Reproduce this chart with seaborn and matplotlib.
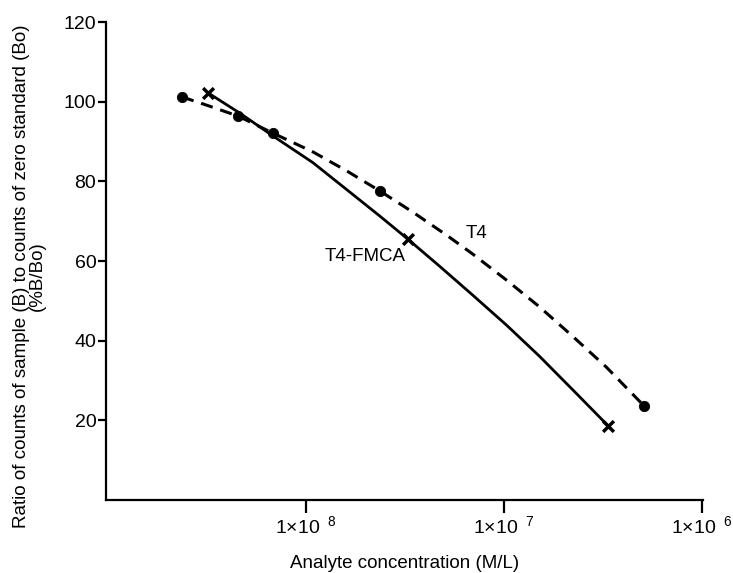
import matplotlib
matplotlib.use("Agg")
import matplotlib.pyplot as plt
import numpy as np
import seaborn as sns

# values (x in M/L, y in %B/Bo)
t4_pts_x = [2.37e-9, 4.54e-9, 6.82e-9, 2.36e-8, 5.1e-7]
t4_pts_y = [101.2, 96.4, 92.1, 77.6, 23.6]
t4_line_x = [2.37e-9, 3.21e-9, 4.54e-9, 6.82e-9, 1.085e-8, 1.61e-8, 2.36e-8, 3.46e-8,
             5.13e-8, 6.93e-8, 1.03e-7, 1.51e-7, 2.21e-7, 3.28e-7, 5.1e-7]
t4_line_y = [101.2, 99.0, 96.4, 92.1, 87.4, 82.6, 77.6, 72.3,
             66.5, 61.8, 55.2, 48.5, 41.2, 33.4, 23.6]

fmca_pts_x = [3.21e-9, 3.27e-8, 3.36e-7]
fmca_pts_y = [102.2, 65.5, 18.6]
fmca_line_x = [3.21e-9, 4.65e-9, 6.82e-9, 1.085e-8, 1.61e-8, 2.36e-8, 3.27e-8,
               4.73e-8, 6.93e-8, 1.03e-7, 1.51e-7, 2.21e-7, 3.36e-7]
fmca_line_y = [102.2, 97.1, 91.4, 84.7, 77.9, 71.3, 65.5,
               58.7, 51.5, 43.9, 36.1, 27.8, 18.6]

xticks = [1e-8, 1e-7, 1e-6]
xtick_labels = [r"1$\times$10$^{\ \ 8}$", r"1$\times$10$^{\ \ 7}$", r"1$\times$10$^{\ \ 6}$"]
yticks = [20, 40, 60, 80, 100, 120]

sns.set_style("ticks")
plt.rcParams['font.family'] = ['Liberation Sans', 'DejaVu Sans']
plt.rcParams['mathtext.default'] = 'regular'
plt.rcParams['text.color'] = 'black'
plt.rcParams['axes.labelcolor'] = 'black'
plt.rcParams['lines.solid_joinstyle'] = 'round'
plt.rcParams['lines.dash_joinstyle'] = 'round'

fig = plt.figure(figsize=(7.33, 5.73), dpi=100)
ax = fig.add_axes([0.1446, 0.1274, 0.8144, 0.8342])

sns.lineplot(x=t4_line_x, y=t4_line_y, ax=ax, color='black', lw=2.2,
             sort=False, estimator=None)
ax.lines[-1].set_dashes((4, 2.6))
sns.lineplot(x=fmca_line_x, y=fmca_line_y, ax=ax, color='black', lw=2.0,
             sort=False, estimator=None)
sns.scatterplot(x=t4_pts_x, y=t4_pts_y, ax=ax, color='black', s=55,
                marker='o', edgecolor='black', zorder=5)
sns.scatterplot(x=fmca_pts_x, y=fmca_pts_y, ax=ax, color='black', s=60,
                marker='x', linewidth=2.5, zorder=5)

ax.text(7.3e-8, 66.8, "T4", fontsize=13.5, ha='center', va='center', color='black')
ax.text(1.98e-8, 61.1, "T4-FMCA", fontsize=13.5, ha='center', va='center', color='black')

ax.set_xscale('log')
ax.set_xlim(9.8e-10, 1.01e-6)
ax.set_ylim(0, 120)
ax.set_xticks(xticks)
ax.set_xticklabels(xtick_labels)
ax.xaxis.set_minor_locator(matplotlib.ticker.NullLocator())
ax.set_yticks(yticks)

ax.tick_params(axis='x', direction='out', length=9, width=1.6, labelsize=14, pad=2, colors='black')
ax.tick_params(axis='y', direction='out', length=6, width=1.6, labelsize=14, pad=1, colors='black')
for side in ['left', 'bottom']:
    ax.spines[side].set_linewidth(1.6)
    ax.spines[side].set_color('black')
sns.despine(ax=ax)

ax.set_xlabel("Analyte concentration (M/L)", fontsize=13.5)
ax.xaxis.set_label_coords(0.5, -0.115)
ax.set_ylabel("Ratio of counts of sample (B) to counts of zero standard (Bo)\n(%B/Bo)",
              fontsize=13.5, linespacing=0.95)
ax.yaxis.set_label_coords(-0.1005, 0.469)

fig.savefig("out.png", dpi=100)
